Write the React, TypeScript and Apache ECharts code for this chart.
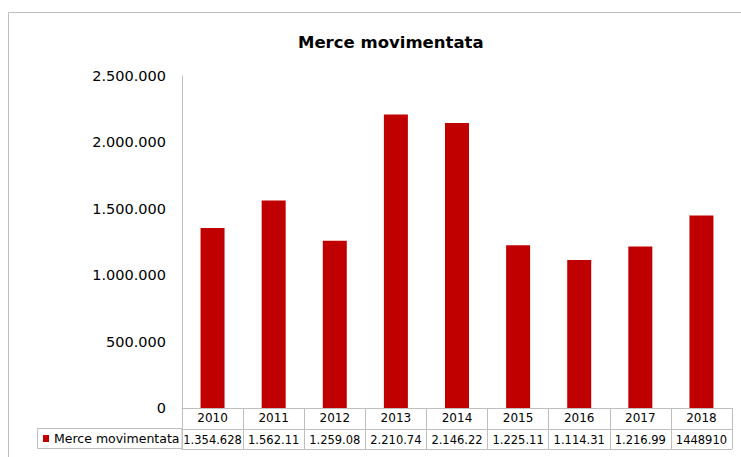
import React, { useEffect, useRef } from "react";
import * as echarts from "echarts";

const years = ["2010", "2011", "2012", "2013", "2014", "2015", "2016", "2017", "2018"];
const merceValues = [1354628, 1562110, 1259080, 2210740, 2146220, 1225110, 1114310, 1216990, 1448910];
const tableLabels = ["1.354.628", "1.562.11", "1.259.08", "2.210.74", "2.146.22", "1.225.11", "1.114.31", "1.216.99", "1448910"];
const seriesName = "Merce movimentata";
const yTicks = [0, 500000, 1000000, 1500000, 2000000, 2500000];

const FONT = "DejaVu Sans";
const GREY = "#bfbfbf";

function fmt(v: number): string {
  return String(Math.round(v)).replace(/\B(?=(\d{3})+(?!\d))/g, ".");
}

export default function App() {
  const ref = useRef<HTMLDivElement>(null);
  useEffect(() => {
    if (!ref.current) return;
    const chart = echarts.init(ref.current, undefined, { renderer: "svg" });
    chart.setOption({
      animation: false,
      backgroundColor: "#ffffff",
      title: {
        text: seriesName,
        left: 298,
        top: 34,
        padding: 0,
        textStyle: { fontFamily: FONT, fontSize: 16.5, fontWeight: "bold", color: "#000" },
      },
      legend: {
        left: 43,
        top: 432,
        padding: 0,
        icon: "rect",
        itemWidth: 6,
        itemHeight: 7,
        itemGap: 4,
        data: [seriesName],
        textStyle: { fontFamily: FONT, fontSize: 12.5, color: "#000", padding: [0, 0, 0, 0] },
      },
      grid: { left: 182, right: 9, top: 76, bottom: 49, containLabel: false },
      xAxis: [
        {
          type: "category",
          data: years,
          position: "bottom",
          axisLine: { show: true, lineStyle: { color: GREY, width: 1 } },
          axisTick: { show: true, interval: 0, length: 41, lineStyle: { color: GREY } },
          axisLabel: { interval: 0, margin: 4, fontFamily: FONT, fontSize: 12, color: "#000" },
        },
        {
          type: "category",
          data: tableLabels,
          position: "bottom",
          offset: 21,
          axisLine: { show: true, lineStyle: { color: GREY, width: 1 } },
          axisTick: { show: false },
          axisLabel: { interval: 0, margin: 5, fontFamily: FONT, fontSize: 11.5, color: "#000" },
        },
        {
          type: "category",
          data: years,
          position: "bottom",
          offset: 41,
          axisLine: { show: true, lineStyle: { color: GREY, width: 1 } },
          axisTick: { show: false },
          axisLabel: { show: false },
        },
      ],
      yAxis: {
        type: "value",
        min: yTicks[0],
        max: yTicks[yTicks.length - 1],
        interval: yTicks[1] - yTicks[0],
        axisLine: { show: true, lineStyle: { color: GREY } },
        axisTick: { show: false },
        splitLine: { show: false },
        axisLabel: {
          margin: 16,
          fontFamily: FONT,
          fontSize: 14.5,
          color: "#000",
          formatter: (v: number) => fmt(v),
        },
      },
      graphic: [
        {
          type: "rect",
          shape: { x: 8.5, y: 12.5, width: 740, height: 460 },
          style: { fill: "none", stroke: GREY, lineWidth: 1 },
          silent: true,
        },
        {
          type: "rect",
          shape: { x: 37.5, y: 428.5, width: 144.5, height: 20 },
          style: { fill: "none", stroke: GREY, lineWidth: 1 },
          silent: true,
        },
      ],
      series: [
        {
          name: seriesName,
          type: "bar",
          xAxisIndex: 0,
          data: merceValues,
          barWidth: 24,
          itemStyle: { color: "#c00000" },
        },
      ],
    });
    return () => chart.dispose();
  }, []);
  return (
    <div
      ref={ref}
      style={{ position: "fixed", left: 0, top: 0, width: 741, height: 457 }}
    />
  );
}
